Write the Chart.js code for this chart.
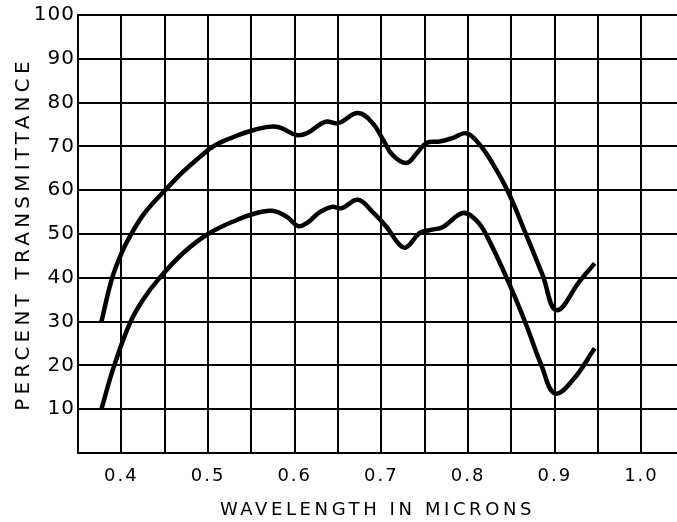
<!DOCTYPE html>
<html>
<head>
<meta charset="utf-8">
<script src="https://cdn.jsdelivr.net/npm/chart.js@4/dist/chart.umd.min.js"></script>
<style>
  html, body { margin: 0; padding: 0; background: #fff; overflow: hidden; }
  canvas { display: block; }
</style>
</head>
<body>
<canvas id="c" width="677" height="522"></canvas>
<script>
// Upper curve (wavelength in microns, percent transmittance)
const upperWavelength = [0.377, 0.389, 0.40, 0.41, 0.425, 0.44, 0.452, 0.47, 0.49, 0.506, 0.525, 0.552, 0.579, 0.602, 0.614, 0.635, 0.65, 0.673, 0.69, 0.702, 0.713, 0.729, 0.741, 0.752, 0.767, 0.782, 0.798, 0.813, 0.828, 0.846, 0.866, 0.886, 0.902, 0.929, 0.946];
const upperTransmittance = [30, 39.7, 45.5, 49.5, 54.3, 57.8, 60.3, 64, 67.5, 70, 71.8, 73.7, 74.5, 72.6, 73, 75.6, 75.3, 77.6, 75.3, 71.5, 68, 66.2, 68.5, 70.8, 71.1, 71.9, 73, 70.5, 66.2, 59.7, 50.3, 40.6, 32.6, 39.3, 43.3];

// Lower curve
const lowerWavelength = [0.377, 0.391, 0.41, 0.425, 0.443, 0.471, 0.50, 0.533, 0.556, 0.574, 0.591, 0.604, 0.614, 0.629, 0.643, 0.654, 0.673, 0.69, 0.706, 0.721, 0.729, 0.744, 0.756, 0.771, 0.794, 0.81, 0.822, 0.846, 0.866, 0.885, 0.90, 0.921, 0.946];
const lowerTransmittance = [10, 19.5, 29.7, 35, 39.7, 45.6, 50, 53.2, 54.8, 55.3, 53.9, 51.8, 52.5, 55, 56.2, 55.9, 57.8, 55, 51.6, 47.5, 47, 50.2, 50.9, 51.6, 54.8, 53, 49.4, 39.3, 29.8, 19.8, 13.6, 16.7, 23.9];

// Tick values and labels
const xTickValues = [0.35, 0.40, 0.45, 0.50, 0.55, 0.60, 0.65, 0.70, 0.75, 0.80, 0.85, 0.90, 0.95, 1.00];
const xTickLabels = ['', '0.4', '', '0.5', '', '0.6', '', '0.7', '', '0.8', '', '0.9', '', '1.0'];
const yTickValues = [0, 10, 20, 30, 40, 50, 60, 70, 80, 90, 100];
const yTickLabels = ['', '10', '20', '30', '40', '50', '60', '70', '80', '90', '100'];

const xTitle = 'WAVELENGTH IN MICRONS';
const yTitle = 'PERCENT TRANSMITTANCE';

function toPoints(xs, ys) { return xs.map((x, i) => ({ x: x, y: ys[i] })); }

const FONT = "'DejaVu Sans', sans-serif";

const spacing = { xTitle: '3.6px', yTitle: '4.2px', xTicks: '2px', yTicks: '1px' };

const spacedText = {
  id: 'spacedText',
  afterLayout(chart) {
    for (const id of ['x', 'y']) {
      const s = chart.scales[id];
      if (s._patched) continue;
      const proto = Object.getPrototypeOf(s);
      const origTitle = proto.drawTitle;
      const origLabels = proto.drawLabels;
      s.drawTitle = function () {
        const ctx = this.ctx;
        ctx.save();
        ctx.letterSpacing = id === 'x' ? spacing.xTitle : spacing.yTitle;
        origTitle.call(this);
        ctx.restore();
      };
      s.drawLabels = function (area) {
        const ctx = this.ctx;
        ctx.save();
        ctx.letterSpacing = id === 'x' ? spacing.xTicks : spacing.yTicks;
        origLabels.call(this, area);
        ctx.restore();
      };
      s._patched = true;
    }
  }
};

new Chart(document.getElementById('c'), {
  type: 'line',
  data: {
    datasets: [
      { data: toPoints(upperWavelength, upperTransmittance) },
      { data: toPoints(lowerWavelength, lowerTransmittance) }
    ]
  },
  options: {
    responsive: false,
    animation: false,
    events: [],
    layout: { padding: { top: 15, left: 0, right: 0, bottom: 0 } },
    elements: {
      line: { borderColor: '#000', borderWidth: 4.5, tension: 0.4, borderCapStyle: 'butt', borderJoinStyle: 'round', fill: false },
      point: { radius: 0 }
    },
    plugins: { legend: { display: false }, tooltip: { enabled: false } },
    scales: {
      x: {
        type: 'linear',
        min: 0.35,
        max: 1.041,
        afterBuildTicks(scale) { scale.ticks = xTickValues.map(v => ({ value: v })); },
        afterFit(scale) { scale.height = 69; },
        grid: { color: '#000', lineWidth: 2, drawTicks: false },
        border: { display: true, color: '#000', width: 2 },
        ticks: {
          color: '#000',
          font: { family: FONT, size: 18 },
          padding: 13,
          maxRotation: 0,
          autoSkip: false,
          callback(value, index) { return xTickLabels[index]; }
        },
        title: {
          display: true,
          text: xTitle,
          color: '#000',
          font: { family: FONT, size: 18 },
          padding: { top: 0, bottom: 1 }
        }
      },
      y: {
        type: 'linear',
        min: 0,
        max: 100,
        afterBuildTicks(scale) { scale.ticks = yTickValues.map(v => ({ value: v })); },
        afterFit(scale) { scale.width = 78; },
        grid: { color: '#000', lineWidth: 2, drawTicks: false },
        border: { display: true, color: '#000', width: 2 },
        ticks: {
          color: '#000',
          font: { family: FONT, size: 20 },
          padding: 3,
          autoSkip: false,
          callback(value, index) { return yTickLabels[index]; }
        },
        title: {
          display: true,
          text: yTitle,
          color: '#000',
          font: { family: FONT, size: 20 },
          padding: { top: 12, bottom: 0 }
        }
      }
    }
  },
  plugins: [spacedText]
});
</script>
</body>
</html>
